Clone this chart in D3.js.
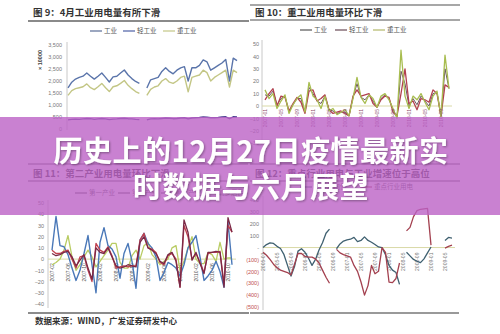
<!DOCTYPE html>
<html>
<head>
<meta charset="utf-8">
<script src="https://cdn.jsdelivr.net/npm/d3@7"></script>
<style>
  html, body { margin: 0; padding: 0; background: #fff; }
  svg { display: block; }
</style>
</head>
<body>
<svg id="chart" width="500" height="334"></svg>
<script>
const cnFont = "'Noto Sans CJK SC', 'Noto Sans', sans-serif";
const numFont = "'Liberation Sans', Arial, sans-serif";

// fig 9: monthly electricity use (x10000), null = gap between the two years
const c9Gong = [1710, 1950, 2080, 2150, 2200, 2330, 2200, 2080, 2200, 2330, 2150, 1960, 2170, 2200, 2330, 2460, 2250, 2100, 1980, 1900,
  null,
  1710, 2050, 2100, 2150, 2400, 2550, 2400, 2300, 2450, 2550, 2600, 2000, 2550, 2550, 2650, 2880, 2800, 2450, 2550, 2650, 2750, 2900, 2000, 2950, 2850];
const c9Zhong = [1400, 1600, 1680, 1720, 1760, 1880, 1720, 1640, 1760, 1900, 1720, 1560, 1760, 1800, 1900, 2020, 1820, 1680, 1560, 1480,
  null,
  1400, 1650, 1750, 1800, 2000, 2100, 1950, 1900, 2000, 2150, 2200, 1550, 2150, 2200, 2250, 2450, 2350, 2000, 2150, 2250, 2350, 2450, 1750, 2450, 2350];
const c9Qing = [380, 400, 410, 400, 420, 440, 430, 400, 420, 440, 420, 390, 410, 420, 440, 450, 430, 420, 400, 390,
  null,
  380, 420, 430, 420, 440, 460, 450, 430, 440, 460, 470, 420, 460, 470, 480, 500, 490, 470, 470, 480, 500, 510, 430, 510, 500];
const c9Ticks = [0, 500, 1000, 1500, 2000, 2500, 3000, 3500];

// fig 10: month-on-month change (%)
const c10Gong = [9, 8, 12, 1, 6, 8, -5, 1, 6, 6, -5, 15, 10, 4, 2, 8, -3, -4, -6, -5, -5, -8, 7, 18, 7, 5, 9, 4, -1, 6, 9, 6, -3, -9, 28, 18, 0, 6, 1, 8, 4, 0, 10, 11, -8, 30, 14];
const c10Qing = [5, 10, 14, 0, 8, 7, -4, 2, 7, 3, -6, 12, 13, 4, 6, 9, -3, -6, -5, -4, -6, -8, 8, 13, 8, 9, 10, 2, -1, 5, 8, 7, -5, -8, 10, 30, 2, 4, -3, 6, 5, 3, 13, 10, -8, 17, 15];
const c10Zhong = [13, 6, 10, -2, 4, 9, -6, 1, 6, 9, -5, 19, 8, 5, -2, 8, -4, -2, -7, -5, -3, -8, 6, 23, 7, 2, 9, 6, -1, 8, 10, 5, -2, -10, 45, 8, -2, 8, 5, 10, 3, -3, 8, 12, -9, 41, 14];
const c10Ticks = [-30, -20, -10, 0, 10, 20, 30, 40, 50];
const c10Months = ["2007-01", "2007-05", "2007-09", "2008-01", "2008-05", "2008-09", "2009-01", "2009-05", "2009-09", "2010-01", "2010-05", "2010-09"];

// fig 11: secondary industry month-on-month (%)
const c11First = [8, 38, 12, 11, 4, -8, -19, -10, 5, 21, -5, -30, 15, 28, 12, 9, 2, -17, 5, 14, -2, -26, 17, 23, 14, 10, 2, -19, -12, -3, -5, -8, -15, -5, 10, 15, 21, 2, -19, -15, -10, -2, -11, -25, 33, -5];
const c11Second = [8, 5, 5, 7, 8, 0, -8, 2, 3, -10, -20, 14, 8, 6, 11, 3, -8, -7, -6, -7, -6, -6, 17, 23, 10, 9, 6, -3, -5, 3, 5, 0, -25, 30, 20, 0, 5, -3, -12, 5, 6, 6, 7, -22, 30, 24];
const c11Third = [-5, -3, 0, 8, 21, 2, -10, -5, 2, 8, 2, -7, -2, 3, 8, 14, 14, -3, -8, -8, 3, 8, 0, 12, 15, 4, 0, -5, -2, 0, 10, 12, -10, -2, 10, 20, 0, -4, -4, 6, 4, -2, 15, 0, 1, 1];
const c11Home = [5, 3, 4, 6, 7, 2, -6, -1, 4, -8, -18, 10, 6, 5, 10, 2, -6, -8, -7, -5, -6, -7, 15, 20, 10, 8, 5, -2, -4, 4, 6, -2, -25, 35, 24, -1, 6, -4, -13, 6, 6, 7, 6, -25, 37, 24];
const c11Ticks = [-40, -30, -20, -10, 0, 10, 20, 30, 40, 50];
const c11Months = ["2007-02", "2007-06", "2007-10", "2008-02", "2008-06", "2008-10", "2009-02", "2009-06", "2009-10", "2010-02", "2010-06", "2010-10"];

// fig 12: growth gap, null = gaps between segments
const c12Teal = [0, 25, 40, 35, 10, -8, -60, -150, -240, -160, -30, -10, -40, -90, -150, -100, -20, 40, 120, 155,
  null,
  -10, 30, 55, 65, 70, 85, 50, 60, 90, 60, 45, 25, 5, 0, -60, -150, -190, -210, -310,
  null,
  -40, -70, -100, -115, -127, -95, -45, 5,
  null, null, null,
  60, 85, 80];
const c12Red = [-40, -65, -100, -140, -170, -190, -200, -210, -230, -140, -50, -50, -75, -80, -80, -95, -130, -190, -250, -300,
  null,
  -15, -45, -60, -70, -80, -150, -200, -290, -400, -320, -150, -220, -200, 0, -40, -290, -295, -260, -130,
  null,
  140, 170, 260, 310, 322, 326, 330, 20,
  null, null, null,
  -5, 10, 20];
const c12Ticks = [-500, -400, -300, -200, -100, 0, 100, 200, 300, 400];
const c12Months = ["2005-01", "2005-05", "2005-09", "2006-01", "2006-05", "2006-09", "2007-01", "2007-05", "2007-09", "2008-01", "2008-05", "2008-09", "2009-01", "2009-05"];

const svg = d3.select("#chart");

function rule(x1, x2, y, w, color) {
  svg.append("line").attr("x1", x1).attr("x2", x2).attr("y1", y).attr("y2", y)
    .attr("stroke", color || "#8a8a8a").attr("stroke-width", w || 1.5);
}

function title(text, x, y) {
  svg.append("text").attr("x", x).attr("y", y)
    .attr("font-family", cnFont).attr("font-size", 9.5).attr("font-weight", "bold")
    .attr("fill", "#333").text(text);
}

function legend(items, y) {
  const g = svg.append("g").attr("font-family", cnFont).attr("font-size", 6.5).attr("fill", "#555");
  for (const it of items) {
    g.append("line").attr("x1", it.x).attr("x2", it.x + 12).attr("y1", y).attr("y2", y)
      .attr("stroke", it.color).attr("stroke-width", 1.2);
    g.append("text").attr("x", it.x + 14).attr("y", y + 2.3).text(it.label);
  }
}

function yAxis(y, ticks, xPos, fmt, fill) {
  svg.append("g")
    .attr("transform", `translate(${xPos},0)`)
    .call(d3.axisLeft(y).tickValues(ticks).tickSize(0).tickPadding(0).tickFormat(fmt))
    .call((g) => g.select(".domain").remove())
    .call((g) => g.attr("font-family", numFont).attr("font-size", 5.5))
    .call((g) => g.selectAll("text").attr("fill", fill || "#777"));
}

function axisLine(x, y1, y2) {
  svg.append("line").attr("x1", x).attr("x2", x).attr("y1", y1).attr("y2", y2)
    .attr("stroke", "#c8c8c8").attr("stroke-width", 1);
}

function zeroLine(x1, x2, y) {
  svg.append("line").attr("x1", x1).attr("x2", x2).attr("y1", y).attr("y2", y)
    .attr("stroke", "#d9d9a6").attr("stroke-width", 1);
}

function series(x, y, data, color, width) {
  svg.append("path").datum(data)
    .attr("fill", "none")
    .attr("stroke", color)
    .attr("stroke-width", width || 1.3)
    .attr("stroke-linejoin", "round")
    .attr("d", d3.line().defined((d) => d != null).x((d, i) => x(i)).y((d) => y(d)));
}

function monthLabels(x, labels, step, yTop, color) {
  svg.append("g").attr("font-family", numFont).attr("font-size", 5).attr("fill", color || "#666")
    .selectAll("text").data(labels).join("text")
    .attr("transform", (d, i) => `translate(${x(i * step) + 2},${yTop}) rotate(-90)`)
    .attr("text-anchor", "end")
    .text((d) => d);
}

// ---------- fig 9 ----------
title("图 9：4月工业用电量有所下滑", 33, 16);
rule(28, 249, 21, 2);
legend([
  { x: 90, label: "工业", color: "#5a6d96" },
  { x: 123, label: "轻工业", color: "#4d5fa6" },
  { x: 163, label: "重工业", color: "#c3c685" },
], 31);

const x9 = d3.scaleLinear().domain([0, 45]).range([68, 237]);
const y9 = d3.scaleLinear().domain([0, 3500]).range([129, 45]);
axisLine(67, 42, 130);
yAxis(y9, c9Ticks, 62, d3.format(","));
svg.append("text").attr("transform", "translate(42,60) rotate(-90)")
  .attr("text-anchor", "middle").attr("font-family", numFont)
  .attr("font-size", 5.5).attr("font-weight", "bold").attr("fill", "#444").text("× 10000");
series(x9, y9, c9Qing, "#4b3f90", 1.4);
series(x9, y9, c9Zhong, "#c3c685", 1.4);
series(x9, y9, c9Gong, "#5a74aa", 1.4);

// ---------- fig 10 ----------
rule(250, 460, 5, 1.5);
title("图 10：重工业用电量环比下滑", 255, 16);
rule(250, 460, 20, 1.5);
legend([
  { x: 300, label: "工业", color: "#555" },
  { x: 335, label: "轻工业", color: "#6a4a55" },
  { x: 373, label: "重工业", color: "#b2b86a" },
], 30);

const x10 = d3.scaleLinear().domain([0, 46]).range([265, 449]);
const y10 = d3.scaleLinear().domain([-30, 50]).range([143.2, 44]);
axisLine(262, 40, 145);
zeroLine(262, 452, y10(0));
yAxis(y10, c10Ticks, 259, d3.format("d"));
series(x10, y10, c10Gong, "#6b5560", 1);
series(x10, y10, c10Qing, "#b2404f", 1.3);
series(x10, y10, c10Zhong, "#a8bd50", 1.3);
monthLabels(x10, c10Months, 4, y10(0) + 3, "#8a4a6a");

// ---------- fig 11 ----------
rule(28, 248, 164, 1.5);
title("图 11：第二产业用电量环比下滑", 33, 177);
rule(28, 248, 181, 1.5);
legend([
  { x: 75, label: "第一产业", color: "#555" },
  { x: 118, label: "第二产业", color: "#555" },
  { x: 161, label: "第三产业", color: "#555" },
  { x: 204, label: "城乡居民", color: "#555" },
], 193);

const x11 = d3.scaleLinear().domain([0, 45]).range([52, 232]);
const y11 = d3.scaleLinear().domain([-40, 50]).range([304, 203]);
axisLine(48, 200, 308);
zeroLine(48, 236, y11(0));
yAxis(y11, c11Ticks, 44, d3.format("d"));
monthLabels(x11, c11Months, 4, y11(0) + 4, "#555");
series(x11, y11, c11Third, "#b9cc63", 1.3);
series(x11, y11, c11First, "#4a78b8", 1.4);
series(x11, y11, c11Second, "#c0404e", 1.3);
series(x11, y11, c11Home, "#7a2846", 1.3);

rule(28, 249, 313, 1.5, "#666");
svg.append("text").attr("x", 35).attr("y", 324)
  .attr("font-family", cnFont).attr("font-size", 8.5).attr("font-weight", "bold")
  .attr("fill", "#333").text("数据来源：WIND，广发证券研发中心");

// ---------- fig 12 ----------
rule(250, 460, 164, 1.5);
title("图 12：重点行业用电与工业增速位于高位", 255, 177);
rule(250, 460, 181, 1.5);
legend([
  { x: 300, label: "工业增加值", color: "#3f5f6e" },
  { x: 360, label: "重点行业用电", color: "#a3404f" },
], 187);

const x12 = d3.scaleLinear().domain([0, 54]).range([263, 452]);
const y12 = d3.scaleLinear().domain([-500, 400]).range([307, 200]);
axisLine(263, 196, 310);
yAxis(y12, c12Ticks, 259, (d) => (d < 0 ? `(${-d})` : d === 0 ? "-" : d));
svg.selectAll("g text").filter(function () { return this.textContent.startsWith("("); }).attr("fill", "#c0504d");
zeroLine(263, 455, y12(0));
monthLabels(x12, c12Months, 4, y12(0) + 5, "#777");
series(x12, y12, c12Teal, "#3f6070", 1.3);
series(x12, y12, c12Red, "#a3404f", 1.3);
rule(250, 459, 313, 1.5, "#777");

// ---------- banner ----------
const defs = svg.append("defs");
defs.append("filter").attr("id", "shadow")
  .append("feDropShadow").attr("dx", 1).attr("dy", 1).attr("stdDeviation", 1)
  .attr("flood-color", "#000").attr("flood-opacity", 0.35);

svg.append("rect").attr("x", 0).attr("y", 117).attr("width", 500).attr("height", 98)
  .attr("fill", "#bb62c6").attr("fill-opacity", 0.8);

const bannerLines = ["历史上的12月27日疫情最新实", "时数据与六月展望"];
svg.append("g").attr("filter", "url(#shadow)")
  .selectAll("text").data(bannerLines).join("text")
  .attr("x", 251)
  .attr("y", (d, i) => 162 + i * 36)
  .attr("text-anchor", "middle")
  .attr("font-family", cnFont)
  .attr("font-size", 29)
  .attr("font-weight", "bold")
  .attr("letter-spacing", 0.5)
  .attr("fill", "#fff")
  .text((d) => d);
</script>
</body>
</html>
